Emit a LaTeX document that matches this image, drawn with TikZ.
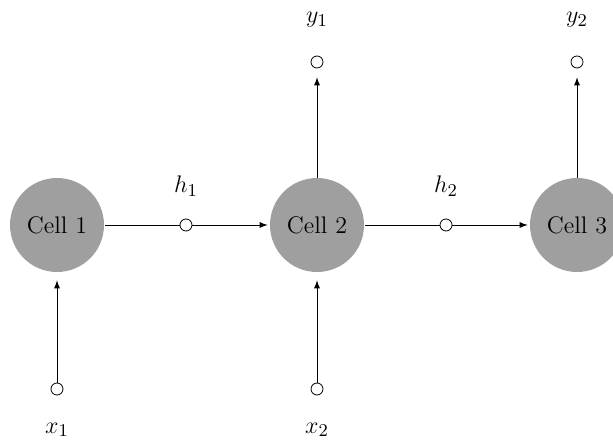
\documentclass[tikz,border=0pt]{standalone}
\usepackage{amsmath}
\usetikzlibrary{arrows}

\tikzset{
  cell/.style={circle, fill=gray!75, minimum size=47pt, inner sep=0pt, font=\fontsize{12}{14}\selectfont},
  port/.style={circle, draw, fill=white, minimum size=6pt, inner sep=0pt},
  lbl/.style={font=\fontsize{13}{15}\selectfont},
}

\begin{document}
\begin{tikzpicture}[x=0.5pt, y=0.5pt, >=latex]
\useasboundingbox (0,0) rectangle (613,443);
% cells
\node[cell] (c1) at (57,218) {Cell 1};
\node[cell] (c2) at (317,218) {Cell 2};
\node[cell] (c3) at (577,218) {Cell 3};
% hidden states
\node[port] (h1) at (186,218) {};
\node[port] (h2) at (446,218) {};
\node[lbl] at (186,257) {$h_1$};
\node[lbl] at (446,257) {$h_2$};
% outputs
\node[port] (y1) at (317,381) {};
\node[port] (y2) at (577,381) {};
\node[lbl] at (317,423) {$y_1$};
\node[lbl] at (577,423) {$y_2$};
% inputs
\node[port] (x1) at (57,54) {};
\node[port] (x2) at (317,54) {};
\node[lbl] at (57,13) {$x_1$};
\node[lbl] at (317,13) {$x_2$};

\draw (c1.east) ++(1,0) -- (h1);
\draw [->] (h1) -- ([xshift=-1pt]c2.west);
\draw (c2.east) ++(1,0) -- (h2);
\draw [->] (h2) -- ([xshift=-1pt]c3.west);
\draw [->] (c2.north) -- ([yshift=-4.5pt]y1.south);
\draw [->] (c3.north) -- ([yshift=-4.5pt]y2.south);
\draw [->] (x1) -- ([yshift=-4pt]c1.south);
\draw [->] (x2) -- ([yshift=-4pt]c2.south);
\end{tikzpicture}
\end{document}
